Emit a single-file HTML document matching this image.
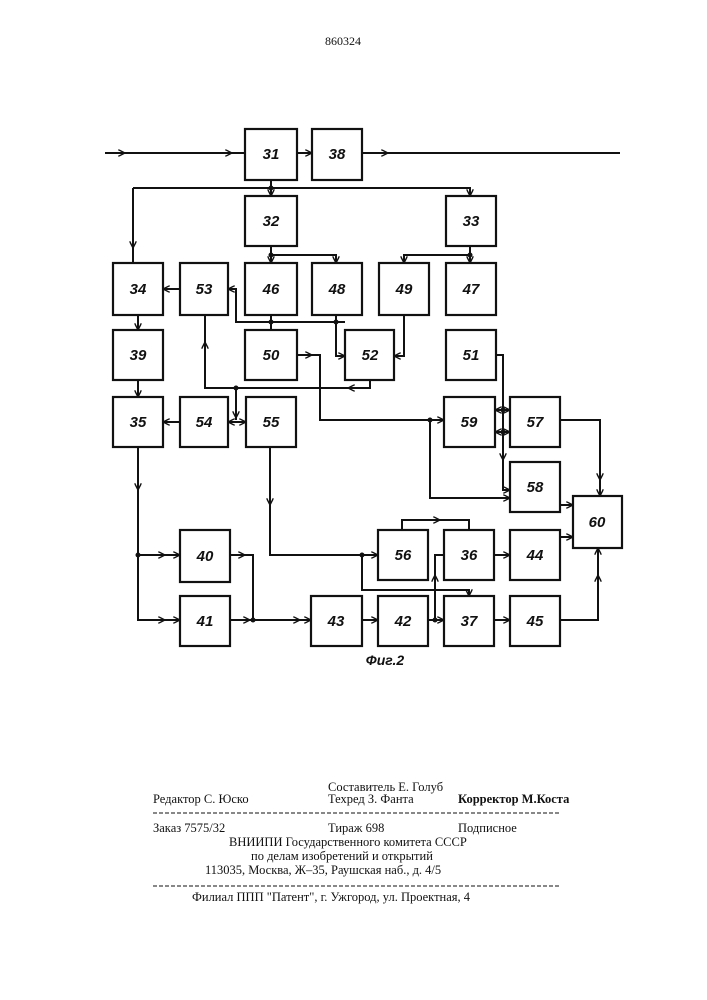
<!DOCTYPE html>
<html><head><meta charset="utf-8"><style>
html,body{margin:0;padding:0;background:#fff;}
svg{display:block;}
.b{fill:#fff;stroke:#111;stroke-width:2.2;}
.l{fill:none;stroke:#111;stroke-width:2;}
.n{font-family:"Liberation Sans",sans-serif;font-style:italic;font-weight:bold;font-size:15px;fill:#111;text-anchor:middle;}
.t{font-family:"Liberation Serif","DejaVu Serif",serif;font-size:12.5px;fill:#111;}
</style></head><body>
<svg width="707" height="1000" viewBox="0 0 707 1000" xmlns="http://www.w3.org/2000/svg">
<defs>
<marker id="a" viewBox="0 0 10 10" refX="10" refY="5" markerWidth="7" markerHeight="7" orient="auto" markerUnits="userSpaceOnUse">
<path d="M0,0 L10,5 L0,10" fill="none" stroke="#111" stroke-width="2"/></marker>
</defs>
<text x="343" y="45" class="t" style="font-size:12px" text-anchor="middle">860324</text>

<!-- lines -->
<g class="l">
<path d="M105,153 H245" /><path d="M105,153 H125" marker-end="url(#a)"/><path d="M105,153 H232" marker-end="url(#a)"/>
<path d="M297,153 H312" marker-end="url(#a)"/>
<path d="M362,153 H620"/><path d="M362,153 H388" marker-end="url(#a)"/>
<path d="M271,180 V196" marker-end="url(#a)"/>
<path d="M133,188 H470 V196" marker-end="url(#a)"/>
<path d="M133,188 V263"/><path d="M133,188 V248" marker-end="url(#a)"/>
<path d="M271,246 V263" marker-end="url(#a)"/>
<path d="M271,255 H336 V263" marker-end="url(#a)"/>
<path d="M470,246 V263" marker-end="url(#a)"/>
<path d="M470,255 H404 V263" marker-end="url(#a)"/>
<path d="M180,289 H163" marker-end="url(#a)"/>
<path d="M345,322 H236 V289 H228" marker-end="url(#a)"/>
<path d="M271,315 V330"/><path d="M336,315 V356 H345" marker-end="url(#a)"/>
<path d="M404,315 V356 H394" marker-end="url(#a)"/>
<path d="M370,380 V388 H205 V315"/><path d="M370,388 H348" marker-end="url(#a)"/><path d="M205,388 V342" marker-end="url(#a)"/>
<path d="M236,388 V420"/><path d="M236,405 V418" marker-end="url(#a)"/>
<path d="M236,422 H228" marker-end="url(#a)"/><path d="M236,422 H246" marker-end="url(#a)"/>
<path d="M180,422 H163" marker-end="url(#a)"/>
<path d="M138,315 V330" marker-end="url(#a)"/><path d="M138,380 V397" marker-end="url(#a)"/>
<path d="M297,355 H320 V420 H444" marker-end="url(#a)"/><path d="M297,355 H312" marker-end="url(#a)"/>
<path d="M430,420 V498 H510" marker-end="url(#a)"/>
<path d="M496,355 H503 V490 H510" marker-end="url(#a)"/><path d="M503,440 V460" marker-end="url(#a)"/>
<path d="M503,410 H510" marker-end="url(#a)"/><path d="M503,410 H495" marker-end="url(#a)"/>
<path d="M503,432 H510" marker-end="url(#a)"/><path d="M503,432 H495" marker-end="url(#a)"/>
<path d="M560,420 H600 V496" marker-end="url(#a)"/><path d="M600,420 V480" marker-end="url(#a)"/>
<path d="M560,505 H573" marker-end="url(#a)"/>
<path d="M560,537 H573" marker-end="url(#a)"/>
<path d="M560,620 H598 V548" marker-end="url(#a)"/><path d="M598,620 V575" marker-end="url(#a)"/>
<path d="M138,447 V620 H180" marker-end="url(#a)"/><path d="M138,447 V490" marker-end="url(#a)"/><path d="M138,620 H165" marker-end="url(#a)"/>
<path d="M138,555 H180" marker-end="url(#a)"/><path d="M138,555 H165" marker-end="url(#a)"/>
<path d="M230,555 H253 V620"/><path d="M230,555 H245" marker-end="url(#a)"/>
<path d="M230,620 H311" marker-end="url(#a)"/><path d="M230,620 H250" marker-end="url(#a)"/><path d="M253,620 H300" marker-end="url(#a)"/>
<path d="M270,447 V555 H378" marker-end="url(#a)"/><path d="M270,447 V505" marker-end="url(#a)"/>
<path d="M362,555 V590 H469 V596" marker-end="url(#a)"/>
<path d="M402,530 V520 H469 V530"/><path d="M402,520 H440" marker-end="url(#a)"/>
<path d="M362,620 H378" marker-end="url(#a)"/>
<path d="M428,620 H444" marker-end="url(#a)"/>
<path d="M435,620 V555 H444"/><path d="M435,620 V575" marker-end="url(#a)"/>
<path d="M494,555 H510" marker-end="url(#a)"/>
<path d="M494,620 H510" marker-end="url(#a)"/>
</g>
<g fill="#111"><circle cx="271" cy="188" r="2.5"/><circle cx="271" cy="255" r="2.5"/><circle cx="470" cy="255" r="2.5"/><circle cx="271" cy="322" r="2.5"/><circle cx="336" cy="322" r="2.5"/><circle cx="236" cy="388" r="2.5"/><circle cx="430" cy="420" r="2.5"/><circle cx="138" cy="555" r="2.5"/><circle cx="253" cy="620" r="2.5"/><circle cx="362" cy="555" r="2.5"/><circle cx="435" cy="620" r="2.5"/><circle cx="503" cy="410" r="2.5"/><circle cx="503" cy="432" r="2.5"/></g>

<!-- boxes -->
<g>
<rect class="b" x="245" y="129" width="52" height="51"/><text class="n" x="271" y="159">31</text>
<rect class="b" x="312" y="129" width="50" height="51"/><text class="n" x="337" y="159">38</text>
<rect class="b" x="245" y="196" width="52" height="50"/><text class="n" x="271" y="226">32</text>
<rect class="b" x="446" y="196" width="50" height="50"/><text class="n" x="471" y="226">33</text>
<rect class="b" x="113" y="263" width="50" height="52"/><text class="n" x="138" y="294">34</text>
<rect class="b" x="180" y="263" width="48" height="52"/><text class="n" x="204" y="294">53</text>
<rect class="b" x="245" y="263" width="52" height="52"/><text class="n" x="271" y="294">46</text>
<rect class="b" x="312" y="263" width="50" height="52"/><text class="n" x="337" y="294">48</text>
<rect class="b" x="379" y="263" width="50" height="52"/><text class="n" x="404" y="294">49</text>
<rect class="b" x="446" y="263" width="50" height="52"/><text class="n" x="471" y="294">47</text>
<rect class="b" x="113" y="330" width="50" height="50"/><text class="n" x="138" y="360">39</text>
<rect class="b" x="245" y="330" width="52" height="50"/><text class="n" x="271" y="360">50</text>
<rect class="b" x="345" y="330" width="49" height="50"/><text class="n" x="370" y="360">52</text>
<rect class="b" x="446" y="330" width="50" height="50"/><text class="n" x="471" y="360">51</text>
<rect class="b" x="113" y="397" width="50" height="50"/><text class="n" x="138" y="427">35</text>
<rect class="b" x="180" y="397" width="48" height="50"/><text class="n" x="204" y="427">54</text>
<rect class="b" x="246" y="397" width="50" height="50"/><text class="n" x="271" y="427">55</text>
<rect class="b" x="444" y="397" width="51" height="50"/><text class="n" x="469" y="427">59</text>
<rect class="b" x="510" y="397" width="50" height="50"/><text class="n" x="535" y="427">57</text>
<rect class="b" x="510" y="462" width="50" height="50"/><text class="n" x="535" y="492">58</text>
<rect class="b" x="573" y="496" width="49" height="52"/><text class="n" x="597" y="527">60</text>
<rect class="b" x="180" y="530" width="50" height="52"/><text class="n" x="205" y="561">40</text>
<rect class="b" x="378" y="530" width="50" height="50"/><text class="n" x="403" y="560">56</text>
<rect class="b" x="444" y="530" width="50" height="50"/><text class="n" x="469" y="560">36</text>
<rect class="b" x="510" y="530" width="50" height="50"/><text class="n" x="535" y="560">44</text>
<rect class="b" x="180" y="596" width="50" height="50"/><text class="n" x="205" y="626">41</text>
<rect class="b" x="311" y="596" width="51" height="50"/><text class="n" x="336" y="626">43</text>
<rect class="b" x="378" y="596" width="50" height="50"/><text class="n" x="403" y="626">42</text>
<rect class="b" x="444" y="596" width="50" height="50"/><text class="n" x="469" y="626">37</text>
<rect class="b" x="510" y="596" width="50" height="50"/><text class="n" x="535" y="626">45</text>
</g>
<text class="n" x="385" y="665" style="font-size:14px">Фиг.2</text>

<text class="t" x="328" y="791">Составитель  Е.  Голуб</text>
<text class="t" x="153" y="803">Редактор  С.  Юско</text>
<text class="t" x="328" y="803">Техред  З.  Фанта</text>
<text class="t" x="458" y="803" style="font-weight:bold">Корректор М.Коста</text>
<line x1="153" y1="813" x2="560" y2="813" stroke="#111" stroke-width="1" stroke-dasharray="4,2"/>
<text class="t" x="153" y="832">Заказ  7575/32</text>
<text class="t" x="328" y="832">Тираж  698</text>
<text class="t" x="458" y="832">Подписное</text>
<text class="t" x="229" y="846">ВНИИПИ Государственного  комитета СССР</text>
<text class="t" x="251" y="860">по делам изобретений и открытий</text>
<text class="t" x="205" y="874">113035, Москва, Ж–35, Раушская наб., д. 4/5</text>
<line x1="153" y1="886" x2="560" y2="886" stroke="#111" stroke-width="1" stroke-dasharray="4,2"/>
<text class="t" x="192" y="901">Филиал  ППП  "Патент",  г.  Ужгород,  ул.  Проектная,  4</text>
</svg>
</body></html>
